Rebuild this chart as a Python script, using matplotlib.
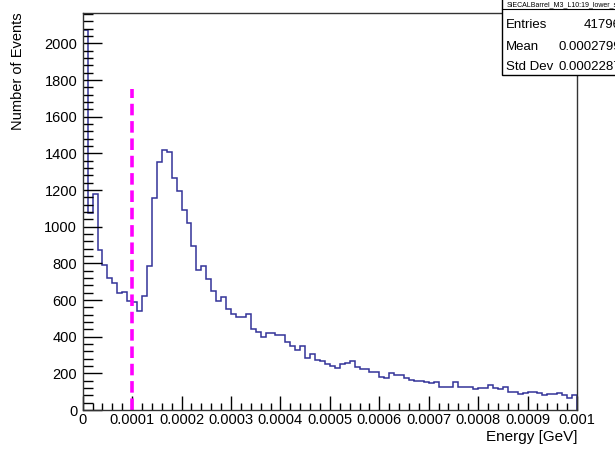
import numpy as np
import matplotlib
matplotlib.use("Agg")
import matplotlib.pyplot as plt
from matplotlib.ticker import MultipleLocator
from matplotlib.patches import Rectangle

plt.rcParams['font.family'] = ['Liberation Sans', 'DejaVu Sans']

# histogram: 100 bins from 0 to 0.001 GeV
bin_lo = 0.0
bin_hi = 0.001
counts = [2073, 1075, 1177, 873, 791, 718, 694, 637, 645, 595,
          588, 540, 624, 787, 1155, 1355, 1418, 1409, 1267, 1196,
          1091, 1019, 896, 764, 786, 713, 649, 595, 615, 549,
          522, 506, 506, 524, 440, 424, 400, 418, 418, 409,
          409, 373, 351, 327, 349, 282, 305, 273, 269, 251,
          242, 227, 251, 258, 265, 233, 224, 224, 206, 206,
          178, 173, 200, 191, 191, 173, 164, 160, 160, 155,
          149, 155, 127, 125, 127, 154, 127, 127, 127, 113,
          118, 118, 135, 118, 113, 127, 96, 96, 87, 91,
          96, 96, 91, 82, 87, 87, 91, 82, 67, 82]

cut_x = 0.0001
cut_top = 1750

hist_name = "SiECALBarrel_M3_L10:19_lower_scale"
stat_labels = ["Entries", "Mean", "Std Dev"]
stat_values = ["41796", "0.0002799", "0.0002287"]

edges = np.linspace(bin_lo, bin_hi, len(counts) + 1)

fig = plt.figure(figsize=(6.15, 4.53), dpi=100)
W, H = 615, 453
ax = fig.add_axes([82.7 / W, 1 - 410 / H, (577 - 82.7) / W, (410 - 13) / H])

ax.stairs(counts, edges, color='#333399', linewidth=1.1)
ax.plot([cut_x, cut_x], [0, cut_top], color='#ff00ff', linewidth=2.6,
        linestyle=(0, (3.2, 1.6)))

ax.set_xlim(bin_lo, bin_hi)
ax.set_ylim(0, 2166)

ax.xaxis.set_major_locator(MultipleLocator(0.0001))
ax.xaxis.set_minor_locator(MultipleLocator(0.00002))
ax.yaxis.set_major_locator(MultipleLocator(200))
ax.yaxis.set_minor_locator(MultipleLocator(40))
ax.xaxis.set_major_formatter(lambda v, p: "0" if v == 0 else ("%.4f" % v).rstrip('0'))

ax.tick_params(axis='x', which='major', direction='in', length=10, width=1,
               labelsize=10.5, pad=2, top=False)
ax.tick_params(axis='x', which='minor', direction='in', length=5, width=1, top=False)
ax.tick_params(axis='y', which='major', direction='in', length=14, width=1,
               labelsize=10.5, pad=4, right=False)
ax.tick_params(axis='y', which='minor', direction='in', length=7, width=1, right=False)
for s in ax.spines.values():
    s.set_linewidth(1)
    s.set_color('#333333')

fig.text(577 / W, 1 - 437 / H, "Energy [GeV]", ha='right', va='center', fontsize=11)
fig.text(18 / W, 1 - 12 / H, "Number of Events", rotation=90, ha='center', va='top',
         fontsize=10.5)

# stats box (runs past the right edge, as in the original canvas)
box_l, box_b = 502 / W, 1 - 75 / H
fig.patches.append(Rectangle((box_l, box_b), 1.2 - box_l, 1.1 - box_b,
                             transform=fig.transFigure, facecolor='white',
                             edgecolor='black', linewidth=1, zorder=5))
fig.lines.append(plt.Line2D([box_l, 1.2], [1 - 9 / H, 1 - 9 / H],
                            transform=fig.transFigure, color='black',
                            linewidth=0.8, zorder=6))
fig.text(507 / W, 1 - 4.5 / H, hist_name, ha='left', va='center', fontsize=5,
         zorder=7)
rows_y = [25, 46.5, 66.5]
for lab, val, yy in zip(stat_labels, stat_values, rows_y):
    fig.text(506 / W, 1 - yy / H, lab, ha='left', va='center', fontsize=9.5, zorder=7)
    fig.text(621 / W, 1 - yy / H, val, ha='right', va='center', fontsize=9.5, zorder=7)

fig.savefig("out.png", dpi=100)
